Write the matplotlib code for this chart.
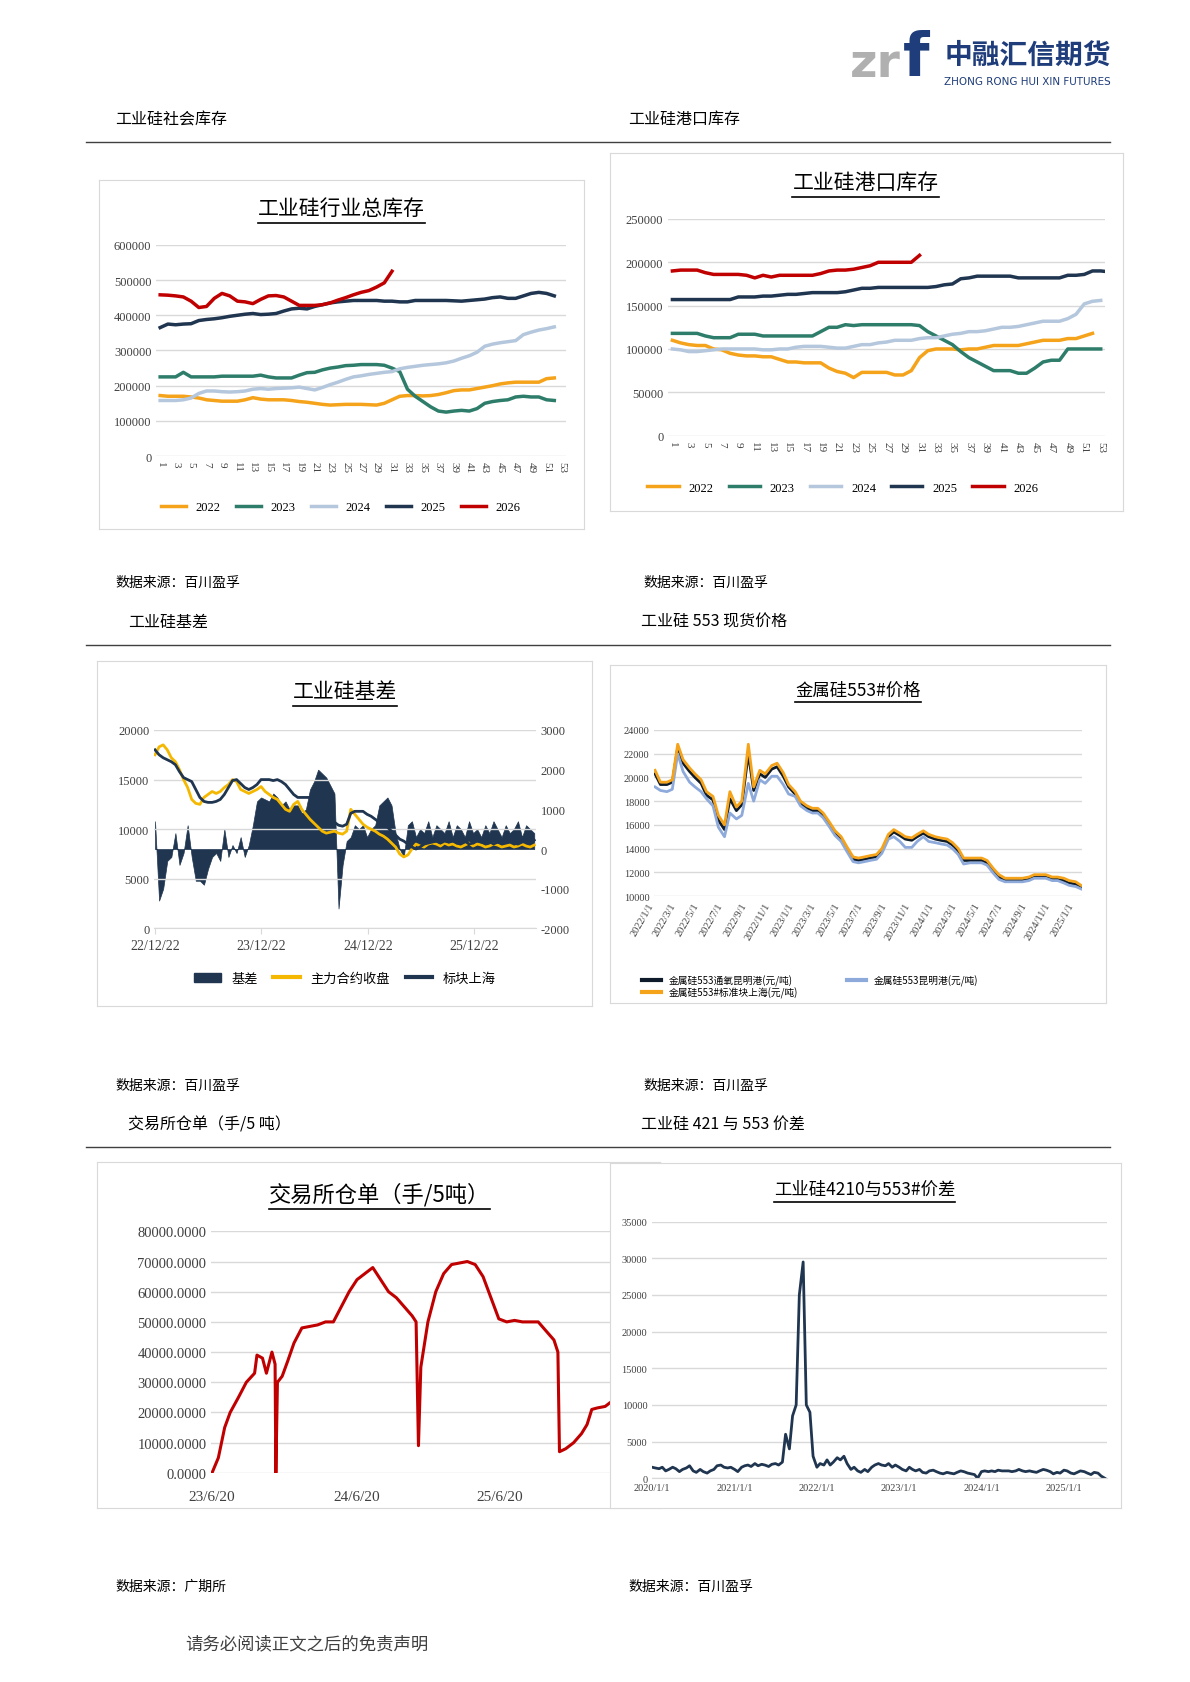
import matplotlib
matplotlib.use("Agg")
import matplotlib.pyplot as plt
import numpy as np
import pandas as pd
from matplotlib.lines import Line2D

plt.rcParams["font.family"] = ["Liberation Serif", "Noto Sans CJK SC"]
plt.rcParams["axes.unicode_minus"] = False

W, H = 1104.0, 1561.0
C22, C23, C24, C25, C26 = "#f5a31a", "#2e7d6b", "#b4c7dc", "#1f3550", "#c00000"
NAVY, GOLD = "#1f3550", "#f5b800"

# ---- panel 1: 工业硅行业总库存 (thousand t, weekly)
total_2022 = [172,170,170,170,168,165,160,158,156,156,156,160,166,162,160,160,160,158,155,153,150,147,145,146,147,147,147,146,145,150,160,170,172,172,171,172,175,180,186,188,188,192,196,200,205,208,210,210,210,210,220,222]
total_2023 = [225,225,225,238,225,225,225,225,227,227,227,227,227,230,225,222,222,222,230,237,238,245,250,253,257,258,260,260,260,258,250,240,190,170,155,140,128,125,128,130,128,135,150,155,158,160,168,170,168,168,160,158]
total_2024 = [158,158,158,160,165,178,185,185,183,182,183,185,190,192,190,192,193,194,196,192,188,195,203,210,218,225,228,232,235,238,240,248,252,255,258,260,262,265,270,278,285,295,312,318,322,325,328,345,352,358,362,367]
total_2025 = [365,375,373,375,376,385,388,390,393,397,400,403,405,402,403,405,412,418,420,418,425,430,435,438,440,442,442,442,442,440,440,438,438,442,442,442,442,442,441,440,442,444,446,450,452,448,448,455,462,465,462,455]
total_2026 = [458,457,455,452,440,422,425,448,462,455,440,438,433,445,455,456,452,440,428,428,428,430,435,443,450,458,465,470,480,492,525]

# ---- panel 2: 工业硅港口库存 (thousand t, weekly)
port_2022 = [110,107,105,104,104,100,99,95,93,92,92,91,91,88,85,85,84,84,84,78,74,72,67,73,73,73,73,70,70,75,90,98,100,100,100,99,100,100,102,104,104,104,104,106,108,110,110,110,112,112,115,118]
port_2023 = [118,118,118,118,115,113,113,113,117,117,117,115,115,115,115,115,115,115,120,125,125,128,127,128,128,128,128,128,128,128,127,120,115,110,105,97,90,85,80,75,75,75,72,72,78,85,87,87,100,100,100,100,100]
port_2024 = [100,99,97,97,98,99,100,100,100,100,100,99,99,100,100,102,103,103,103,102,101,101,103,105,105,107,108,110,110,110,112,113,113,115,117,118,120,120,121,123,125,125,126,128,130,132,132,132,135,140,152,155,156]
port_2025 = [157,157,157,157,157,157,157,157,160,160,160,161,161,162,163,163,164,165,165,165,165,166,168,170,170,171,171,171,171,171,171,171,172,174,175,181,182,184,184,184,184,184,182,182,182,182,182,182,185,185,186,190,190,189]
port_2026 = [190,191,191,191,188,186,186,186,186,185,182,185,183,185,185,185,185,185,187,190,191,191,192,194,196,200,200,200,200,200,208]
year_labels = ["2022", "2023", "2024", "2025", "2026"]

# ---- panel 3: 工业硅基差 (biweekly from 2022-12-22)
spot_sh = [18.0,17.5,17.2,17.0,16.8,16.5,15.8,15.2,15.0,14.8,14.0,13.2,12.8,12.7,12.7,12.8,13.0,13.5,14.2,14.9,15.0,14.6,14.2,14.0,14.2,14.5,15.0,15.0,15.0,14.9,15.0,14.8,14.5,14.0,13.5,13.2,13.2,13.2,13.2,13.0,12.6,12.2,11.8,11.2,10.7,10.4,10.3,10.5,11.6,11.8,11.8,11.8,11.5,11.3,11.0,10.7,10.5,10.2,9.8,9.4,9.0,8.8,8.5,8.2,8.0,8.2,8.5,8.6,8.7,8.8,8.6,8.8,8.7,8.9,8.6,8.7,8.8,8.5,8.6,8.9,8.7,8.6,8.8,8.5,8.7,8.6,8.8,8.9,8.6,8.5,8.7,8.8,8.6,8.9]
main_close = [17.5,18.3,18.5,18.0,17.2,16.8,16.0,15.0,14.2,13.0,12.6,12.5,13.2,13.5,13.8,13.6,13.8,14.2,14.5,15.0,14.8,14.0,13.8,13.6,13.8,14.0,14.3,13.8,13.5,13.2,13.0,12.5,12.0,11.8,12.5,12.8,12.0,11.5,11.0,10.6,10.2,9.8,9.6,9.7,9.8,9.6,9.5,9.8,12.0,11.5,11.0,10.5,10.2,10.0,9.8,9.5,9.3,9.0,8.6,8.2,7.5,7.2,7.4,8.0,8.5,8.3,8.2,8.5,8.6,8.5,8.3,8.6,8.4,8.5,8.3,8.2,8.4,8.6,8.3,8.5,8.4,8.2,8.3,8.5,8.4,8.2,8.3,8.4,8.2,8.3,8.5,8.3,8.2,8.4]
basis = [700,-1300,-1000,-300,-200,400,-400,-100,600,-200,-800,-800,-900,-500,-200,-100,-300,500,-200,100,-100,300,-200,100,600,1200,1300,1250,1200,1400,1300,1100,1200,1000,1100,1100,900,1000,1500,1700,2000,1900,1800,1600,1400,-1500,-400,200,300,600,500,600,300,500,600,1100,1200,1300,1100,400,0,-200,600,700,300,500,400,700,300,600,500,400,700,300,600,500,300,700,400,500,300,600,400,700,500,300,600,400,500,700,300,600,500,400]

# ---- panel 4: 金属硅553#价格 (semi-monthly from 2022-01-01, thousand yuan/t)
p553_sh = [20.6,19.6,19.6,19.8,22.8,21.5,20.8,20.3,19.8,18.8,18.4,16.8,16.0,18.8,17.5,18.0,22.8,19.2,20.6,20.3,21.0,21.2,20.4,19.4,
           18.8,18.0,17.6,17.4,17.4,17.0,16.2,15.5,15.0,14.2,13.3,13.2,13.3,13.4,13.5,14.0,15.2,15.6,15.3,15.0,14.9,15.2,15.5,15.2,
           15.0,14.9,14.8,14.5,14.0,13.2,13.2,13.2,13.2,13.0,12.3,11.8,11.5,11.5,11.5,11.5,11.6,11.8,11.8,11.8,11.6,11.6,11.5,11.3,
           11.2,10.9]
p553_tongyang = [20.3,19.4,19.4,19.6,22.5,21.2,20.5,20.0,19.5,18.5,18.1,16.4,15.6,18.2,17.2,17.7,22.0,18.9,20.3,20.0,20.7,20.9,20.1,19.2,
                 18.6,17.8,17.4,17.2,17.2,16.8,16.0,15.3,14.8,14.0,13.1,13.0,13.1,13.2,13.3,13.8,15.0,15.4,15.1,14.8,14.7,15.0,15.3,15.0,
                 14.8,14.7,14.6,14.3,13.8,13.0,13.0,13.0,13.0,12.8,12.1,11.6,11.3,11.3,11.3,11.3,11.4,11.6,11.6,11.6,11.4,11.4,11.3,11.1,
                 11.0,10.8]
p553_km = [19.2,18.9,18.8,19.0,22.0,20.5,19.6,19.2,18.8,18.2,17.6,15.8,15.0,17.0,16.5,16.8,19.5,18.0,19.8,19.5,20.1,20.1,19.4,18.6,
           18.4,17.6,17.2,17.0,17.0,16.6,15.8,15.1,14.6,13.8,12.9,12.8,12.9,13.0,13.1,13.6,14.8,15.0,14.6,14.1,14.1,14.6,15.0,14.6,
           14.5,14.4,14.3,14.0,13.5,12.7,12.8,12.8,12.8,12.6,11.9,11.4,11.2,11.2,11.2,11.2,11.3,11.5,11.5,11.5,11.3,11.3,11.1,10.9,
           10.8,10.6]
price_names = ["金属硅553通氧昆明港(元/吨)", "金属硅553昆明港(元/吨)", "金属硅553#标准块上海(元/吨)"]

# ---- panel 5: 交易所仓单
wr_dates = ["2023-06-20","2023-07-06","2023-07-22","2023-08-05","2023-08-26","2023-09-15","2023-10-06","2023-10-12","2023-10-26","2023-11-05",
            "2023-11-19","2023-11-27","2023-11-29","2023-12-03","2023-12-15","2023-12-29","2024-01-14","2024-02-03","2024-02-23","2024-03-14",
            "2024-04-03","2024-04-23","2024-05-13","2024-06-02","2024-06-22","2024-07-12","2024-08-01","2024-08-21","2024-09-10","2024-09-30",
            "2024-10-20","2024-11-09","2024-11-19","2024-11-25","2024-12-01","2024-12-19","2025-01-08","2025-01-28","2025-02-17","2025-03-09",
            "2025-03-29","2025-04-18","2025-05-08","2025-05-28","2025-06-17","2025-07-07","2025-07-27","2025-08-16","2025-09-05","2025-09-25",
            "2025-10-15","2025-11-04","2025-11-14","2025-11-18","2025-12-04","2025-12-24","2026-01-13","2026-01-27","2026-02-08","2026-02-22",
            "2026-03-14","2026-04-03","2026-04-23"]
wr_vals = [0,5000,15000,20000,25000,30000,33000,39000,38000,33000,
           40000,36000,0,30000,32000,37000,43000,48000,48500,49000,
           50000,50000,55000,60000,64000,66000,68000,64000,60000,58000,
           55000,52000,50000,9000,35000,50000,60000,66000,69000,69500,
           70000,69000,65000,58000,51000,50000,50500,50000,50000,50000,
           47000,44000,40000,7000,8000,10000,13000,16000,21000,21500,
           22000,24000,28000]

# ---- panel 6: 工业硅4210与553#价差 (semi-monthly from 2020-01-01)
spread = [1500,1400,1300,1500,1000,1200,1500,1300,900,1200,1400,1700,1000,800,1200,900,700,1000,1200,1700,1800,1500,1400,1500,
          1200,900,1500,1700,1800,1600,2000,1700,1900,1800,1600,1900,2000,1800,2200,6000,4000,8500,10000,25000,29500,10000,9000,3000,
          1500,2000,1800,2500,1800,2200,2800,2500,3000,2000,1200,1500,1000,800,1200,900,1500,1800,2000,1800,1700,2000,1500,1800,
          1500,1200,1000,1500,1200,1000,1200,800,700,1000,1100,900,700,600,800,700,600,800,1000,900,700,600,500,0,
          900,1000,900,1000,900,1100,1000,1000,1000,900,1000,1200,1000,900,1000,900,800,1000,1200,1100,900,600,800,700,
          1100,1000,700,600,800,1000,900,700,500,800,700,300,0]

fig = plt.figure(figsize=(11.9, 16.83), dpi=100)
CJK = ["Noto Sans CJK SC"]


def rect(x0, y0, x1, y1):
    return [x0 / W, 1 - y1 / H, (x1 - x0) / W, (y1 - y0) / H]


def box(x0, y0, x1, y1):
    b = fig.add_axes(rect(x0, y0, x1, y1))
    b.set_xticks([]); b.set_yticks([])
    for s in b.spines.values():
        s.set_color("#d9d9d9")
    return b


def ftext(x, y, s, **kw):
    return fig.text(x / W, 1 - y / H, s, **kw)


titles = []


def utitle(x, y, s, size):
    t = ftext(x, y, s, ha="center", va="center", fontsize=size, family=CJK, zorder=10)
    titles.append(t)


def style(ax):
    for s in ax.spines.values():
        s.set_visible(False)
    ax.grid(axis="y", color="#d9d9d9", lw=1)
    ax.set_axisbelow(True)
    ax.tick_params(length=0, labelsize=9, colors="#404040")


# header / logo
ftext(788, 60, "zr", fontsize=34, color="#b0b0b0", weight="bold", family=["DejaVu Sans"], va="center")
ftext(838, 55, "f", fontsize=44, color="#1f3d7a", weight="bold", family=["DejaVu Sans"], va="center")
ftext(876, 52, "中融汇信期货", fontsize=20, color="#1f3d7a", weight="bold", family=CJK, va="center")
ftext(876, 76, "ZHONG RONG HUI XIN FUTURES", fontsize=7.5, color="#1f3d7a", family=["DejaVu Sans"], va="center")

for yh, l, r in [(111, "工业硅社会库存", "工业硅港口库存"), (577, "工业硅基差", "工业硅 553 现货价格"),
                 (1043, "交易所仓单（手/5 吨）", "工业硅 421 与 553 价差")]:
    ftext(107 if yh == 111 else 119, yh, l, fontsize=11.5, family=CJK, va="center")
    ftext(583 if yh == 111 else 595, yh, r, fontsize=11.5, family=CJK, va="center")
    fig.add_artist(Line2D([80 / W, 1030 / W], [1 - (yh + 22) / H] * 2, color="#404040", lw=1))
for ys, l, r in [(541, "数据来源：百川盈孚", "数据来源：百川盈孚"), (1007, "数据来源：百川盈孚", "数据来源：百川盈孚"),
                 (1472, "数据来源：广期所", "数据来源：百川盈孚")]:
    ftext(107, ys, l, fontsize=10, family=CJK, va="center")
    ftext(597 if ys != 1472 else 583, ys, r, fontsize=10, family=CJK, va="center")
ftext(172, 1525, "请务必阅读正文之后的免责声明", fontsize=12.5, family=CJK, va="center", color="#404040")

year_cols = [C22, C23, C24, C25, C26]

# panel 1
box(92, 168, 542, 492)
utitle(317, 194, "工业硅行业总库存", 15)
ax1 = fig.add_axes(rect(145, 228, 525, 424))
style(ax1)
for vals, c, lab in zip([total_2022, total_2023, total_2024, total_2025, total_2026], year_cols, year_labels):
    ax1.plot(np.arange(1, len(vals) + 1), np.array(vals) * 1000, color=c, lw=2.5, label=lab)
ax1.set_ylim(0, 600000); ax1.set_yticks(range(0, 600001, 100000))
ax1.set_xlim(0.5, 53.5); ax1.set_xticks(range(1, 54, 2))
ax1.set_xticklabels([str(i) for i in range(1, 54, 2)], rotation=-90, fontsize=8)
ax1.legend(loc="upper center", bbox_to_anchor=(0.45, -0.16), ncol=5, frameon=False, fontsize=9, handlelength=2, columnspacing=1.2)

# panel 2
box(566, 143, 1042, 475)
utitle(803, 170, "工业硅港口库存", 15)
ax2 = fig.add_axes(rect(620, 204, 1025, 405))
style(ax2)
for vals, c, lab in zip([port_2022, port_2023, port_2024, port_2025, port_2026], year_cols, year_labels):
    ax2.plot(np.arange(1, len(vals) + 1), np.array(vals) * 1000, color=c, lw=2.5, label=lab)
ax2.set_ylim(0, 250000); ax2.set_yticks(range(0, 250001, 50000))
ax2.set_xlim(0.5, 53.5); ax2.set_xticks(range(1, 54, 2))
ax2.set_xticklabels([str(i) for i in range(1, 54, 2)], rotation=-90, fontsize=8)
ax2.legend(loc="upper center", bbox_to_anchor=(0.4, -0.16), ncol=5, frameon=False, fontsize=9, handlelength=2.5, columnspacing=1.2)

# panel 3
box(90, 614, 549, 934)
utitle(320, 642, "工业硅基差", 15)
ax3 = fig.add_axes(rect(143, 678, 497, 862))
style(ax3)
d3 = pd.date_range("2022-12-22", periods=len(spot_sh), freq="14D")
ax3r = ax3.twinx()
for s in ax3r.spines.values():
    s.set_visible(False)
ax3r.tick_params(length=0, labelsize=9, colors="#404040")
ax3r.fill_between(d3[:len(basis)], 0, basis, color=NAVY, lw=0.5, label="基差")
ax3r.set_ylim(-2000, 3000); ax3r.set_yticks(range(-2000, 3001, 1000))
ax3.set_zorder(ax3r.get_zorder() + 1); ax3.patch.set_visible(False)
ax3.plot(d3[:len(main_close)], np.array(main_close) * 1000, color=GOLD, lw=2, label="主力合约收盘")
ax3.plot(d3, np.array(spot_sh) * 1000, color=NAVY, lw=2, label="标块上海")
ax3.set_ylim(0, 20000); ax3.set_yticks(range(0, 20001, 5000))
t3 = pd.to_datetime(["2022-12-22", "2023-12-22", "2024-12-22", "2025-12-22"])
ax3.set_xticks(t3); ax3.set_xticklabels([d.strftime("%y/%m/%d") for d in t3], fontsize=10)
ax3.set_xlim(d3[0] - pd.Timedelta(days=3), d3[-1] + pd.Timedelta(days=5))
ax3.spines["bottom"].set_visible(True); ax3.spines["bottom"].set_color("#d9d9d9")
ax3.tick_params(axis="x", length=4, color="#d9d9d9")
h = [plt.Rectangle((0, 0), 1, 1, color=NAVY), Line2D([], [], color=GOLD, lw=3), Line2D([], [], color=NAVY, lw=3)]
ax3.legend(h, ["基差", "主力合约收盘", "标块上海"], loc="upper center", bbox_to_anchor=(0.5, -0.16), ncol=3,
           frameon=False, prop={"family": CJK, "size": 9.5}, handlelength=2, columnspacing=1.2)

# panel 4
box(566, 618, 1026, 931)
utitle(796, 641, "金属硅553#价格", 12.5)
ax4 = fig.add_axes(rect(607, 678, 1004, 832))
style(ax4)
d4 = pd.date_range("2022-01-01", periods=len(p553_sh), freq="SMS")
c4 = ["#0d1b2a", "#8eaadb", "#f5a31a"]
ax4.plot(d4, np.array(p553_tongyang) * 1000, color=c4[0], lw=2)
ax4.plot(d4, np.array(p553_km) * 1000, color=c4[1], lw=2)
ax4.plot(d4, np.array(p553_sh) * 1000, color=c4[2], lw=2)
ax4.set_ylim(10000, 24000); ax4.set_yticks(range(10000, 24001, 2000))
ax4.tick_params(axis="y", labelsize=7.5)
t4 = pd.date_range("2022-01-01", "2025-01-01", freq="2MS")
ax4.set_xticks(t4)
ax4.set_xticklabels([f"{d.year}/{d.month}/1" for d in t4], rotation=60, ha="right", fontsize=7.5)
ax4.set_xlim(d4[0] - pd.Timedelta(days=2), d4[-1] + pd.Timedelta(days=3))
order = [0, 2, 1]
h4 = [Line2D([], [], color=c4[i], lw=3) for i in order]
ax4.legend(h4, [price_names[i] for i in order], loc="upper left", bbox_to_anchor=(-0.05, -0.42), ncol=2, frameon=False,
           prop={"family": CJK, "size": 7}, handlelength=2, columnspacing=5, labelspacing=0.1)

# panel 5
box(90, 1079, 612, 1400)
utitle(352, 1108, "交易所仓单（手/5吨）", 16)
ax5 = fig.add_axes(rect(196, 1143, 640, 1367))
style(ax5)
ax5.plot(pd.to_datetime(wr_dates), wr_vals, color="#c00000", lw=2.2)
ax5.set_ylim(0, 80000); ax5.set_yticks(range(0, 80001, 10000))
ax5.set_yticklabels([f"{v}.0000" for v in range(0, 80001, 10000)], fontsize=10.5)
t5 = pd.to_datetime(["2023-06-20", "2024-06-20", "2025-06-20", "2026-06-20"])
ax5.set_xticks(t5); ax5.set_xticklabels([d.strftime("%y/%-m/%d") for d in t5], fontsize=11)
ax5.tick_params(axis="x", pad=12)
ax5.set_xlim(pd.Timestamp("2023-06-18"), pd.Timestamp("2026-10-15"))

# panel 6 (drawn over panel 5's right edge)
b6 = box(566, 1080, 1040, 1400)
utitle(802, 1104, "工业硅4210与553#价差", 12.5)
ax6 = fig.add_axes(rect(605, 1134, 1027, 1372))
style(ax6)
d6 = pd.date_range("2020-01-01", periods=len(spread), freq="SMS")
ax6.plot(d6, spread, color=NAVY, lw=2)
ax6.set_ylim(0, 35000); ax6.set_yticks(range(0, 35001, 5000))
ax6.tick_params(axis="y", labelsize=7.5)
t6 = pd.date_range("2020-01-01", "2025-01-01", freq="YS")
ax6.set_xticks(t6); ax6.set_xticklabels([f"{d.year}/1/1" for d in t6], fontsize=7.5)
ax6.set_xlim(d6[0], d6[-1] + pd.Timedelta(days=10))
ax6.spines["bottom"].set_visible(True); ax6.spines["bottom"].set_color("#d9d9d9")

# underline chart titles
fig.canvas.draw()
r = fig.canvas.get_renderer()
for t in titles:
    bb = t.get_window_extent(r).transformed(fig.transFigure.inverted())
    fig.add_artist(Line2D([bb.x0, bb.x1], [bb.y0 - 0.002] * 2, color="black", lw=1.2, zorder=10))

fig.savefig("out.png", dpi=100)
